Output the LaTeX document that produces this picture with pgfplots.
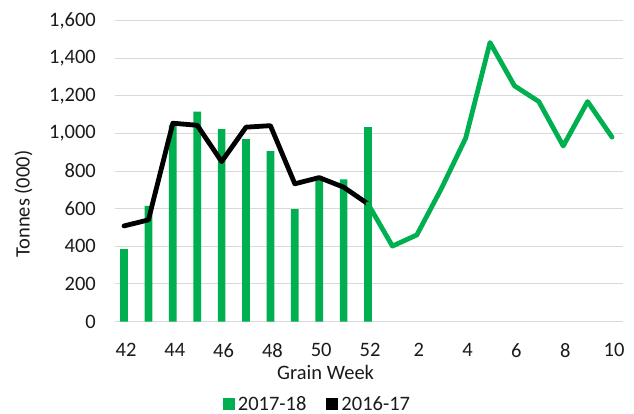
\documentclass[border=0pt]{standalone}
\usepackage{pgfplots}
\pgfplotsset{compat=1.18}
\usepackage{fontspec}
\setmainfont{Carlito}
\definecolor{xlgreen}{HTML}{00B050}
\definecolor{gridgray}{HTML}{D9D9D9}
\definecolor{txt}{HTML}{1A1A1A}
\newcommand{\chartfont}{\fontsize{20.5bp}{24bp}\selectfont}
\pgfplotsset{sqlegend/.style={legend image code/.code={\path[draw=none, fill=#1] (0bp,-6bp) rectangle (12bp,6bp);}}}
\begin{document}
\begin{tikzpicture}
\useasboundingbox (-115bp,-92.5bp) rectangle (519bp,321.5bp);
\begin{axis}[
  at={(0,0)}, anchor=south west,
  scale only axis,
  width=508bp, height=301bp,
  xmin=-0.37, xmax=20.45,
  ymin=0, ymax=1600,
  axis line style={draw=none},
  tick style={draw=none},
  ymajorgrids,
  grid style={gridgray, line width=1bp},
  ytick={0,200,...,1600},
  xtick={0,2,...,20},
  xticklabels={42,44,46,48,50,52,2,4,6,8,10},
  /pgf/number format/assume math mode=true,
  /pgf/number format/1000 sep={,},
  scaled y ticks=false,
  yticklabel style={font=\chartfont, text=txt, anchor=east, inner sep=0pt, xshift=-19bp},
  xticklabel style={font=\chartfont, text=txt, anchor=north, inner sep=0pt, yshift=-21.8bp, xshift=2bp},
  xlabel={Grain Week},
  ylabel={Tonnes (000)},
  xlabel style={font=\chartfont, text=txt, at={(axis description cs:0.4146,-0.168)}, anchor=center, inner sep=0pt},
  ylabel style={font=\chartfont, text=txt, at={(axis description cs:-0.180,0.39)}, anchor=center, rotate=0, inner sep=0pt},
  legend style={draw=none, fill=none, font=\chartfont, text=txt,
    at={(axis description cs:0.3996,-0.274)}, anchor=center,
    legend columns=2, inner sep=0pt,
    /tikz/every even column/.append style={column sep=17bp},
    nodes={inner sep=3bp}},
  clip=false,
]
\addplot[ybar, bar width=7.7bp, fill=xlgreen, draw=none, color=xlgreen, bar shift=0pt, sqlegend=xlgreen] coordinates {
  (0,385) (1,615) (2,1045) (3,1116) (4,1022) (5,969) (6,905) (7,598) (8,755) (9,755) (10,1033)
};
\addlegendentry{2017-18}
\addplot[color=black, line width=4.8bp, line join=round, line cap=round, sqlegend=black] coordinates {
  (0,508) (1,540) (2,1054) (3,1043) (4,850) (5,1033) (6,1041) (7,732) (8,765) (9,714) (10,625)
};
\addlegendentry{2016-17}
\addplot[color=xlgreen, line width=4.8bp, line join=round, line cap=round, forget plot] coordinates {
  (10,625) (11,401) (12,460) (13,705) (14,974) (15,1483) (16,1253) (17,1169) (18,933) (19,1169) (20,980)
};
\end{axis}
\end{tikzpicture}
\end{document}
